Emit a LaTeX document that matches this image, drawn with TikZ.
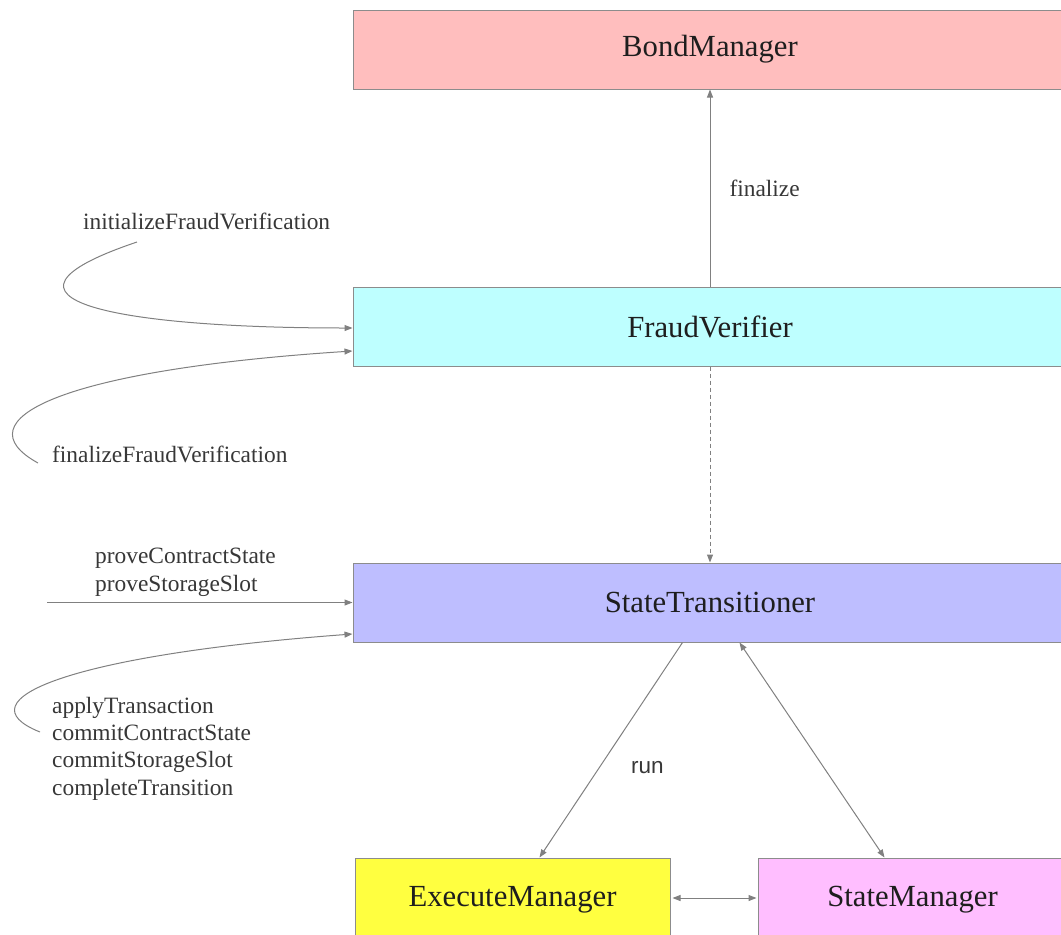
\documentclass[tikz,border=0pt]{standalone}
\usepackage{fontspec}
\setmainfont{Liberation Serif}
\setsansfont{Liberation Sans}
\usetikzlibrary{arrows.meta,calc}

\definecolor{bondfill}{RGB}{255,190,190}
\definecolor{fraudfill}{RGB}{190,255,255}
\definecolor{transfill}{RGB}{190,190,255}
\definecolor{execfill}{RGB}{255,255,64}
\definecolor{statefill}{RGB}{255,190,255}
\definecolor{boxline}{RGB}{140,140,140}
\definecolor{linkgray}{RGB}{128,128,128}
\definecolor{labeltext}{RGB}{30,30,30}
\definecolor{calltext}{RGB}{55,55,55}

\begin{document}
\begin{tikzpicture}[x=1pt,y=-1pt,
  >={Triangle[length=8pt,width=6pt]},
  box/.style={draw=boxline, line width=1pt, minimum height=79pt, inner sep=0pt,
    font=\fontsize{30.7}{36}\selectfont, text=labeltext},
  link/.style={draw=linkgray, line width=1pt, ->, color=linkgray},
  twoway/.style={link, <->},
  dashedlink/.style={link, dash pattern=on 4pt off 3pt},
  callname/.style={inner sep=0pt, text=calltext, font=\fontsize{23.4}{27.3}\selectfont},
  runname/.style={inner sep=0pt, text=calltext, font=\sffamily\fontsize{22.5}{26}\selectfont},
]
\useasboundingbox (0,0) rectangle (1061,935);
\clip (0,0) rectangle (1061,935);

% contracts
\node[box, fill=bondfill,  minimum width=714pt] (bm) at (710,49.5)  {BondManager};
\node[box, fill=fraudfill, minimum width=714pt] (fv) at (710,326.5) {FraudVerifier};
\node[box, fill=transfill, minimum width=714pt] (st) at (710,602.5) {StateTransitioner};
\node[box, fill=execfill,  minimum width=315pt, minimum height=84pt] (em) at (512.5,900) {ExecuteManager};
\node[box, fill=statefill, minimum width=309pt, minimum height=84pt] (sm) at (912.5,900) {StateManager};

% calls between contracts
\draw[link] (fv.north) -- node[midway, anchor=west, xshift=19pt, callname] {finalize} (bm.south);
\draw[dashedlink] (fv.south) -- (st.north);
\draw[link] ($(st.south west)+(330,0)$) --
  node[pos=0.58, anchor=west, xshift=31pt, runname] {run} ($(em.north west)+(185,0)$);
\draw[twoway] ($(st.south west)+(387,0)$) -- ($(sm.north west)+(127,0)$);
\draw[twoway] ($(em.east)+(2,-2)$) -- ($(sm.west)+(-1,-2)$);

% external entry points
\coordinate (initStart)  at (137,242);
\coordinate (finStart)   at (38,463);
\coordinate (proveStart) at (47,602.5);
\coordinate (applyStart) at (40,732);

\node[callname, anchor=base west] (initLbl) at (83,229) {initializeFraudVerification};
\node[callname, anchor=base west] (finLbl)  at (52,462) {finalizeFraudVerification};
\node[callname, anchor=base west, align=left] (proveLbl) at (95,591)
  {proveContractState\\proveStorageSlot};
\node[callname, anchor=base west, align=left] (applyLbl) at (52,795)
  {applyTransaction\\commitContractState\\commitStorageSlot\\completeTransition};

\draw[link] (initStart) .. controls (-35,300) and (120,328) .. ($(fv.west)+(0,1.5)$);
\draw[link] (finStart) .. controls (-40,420) and (60,370) .. ($(fv.west)+(0,24.5)$);
\draw[link] (proveStart) -- (st.west);
\draw[link] (applyStart) .. controls (-40,700) and (70,655) .. ($(st.west)+(0,31.5)$);
\end{tikzpicture}
\end{document}
